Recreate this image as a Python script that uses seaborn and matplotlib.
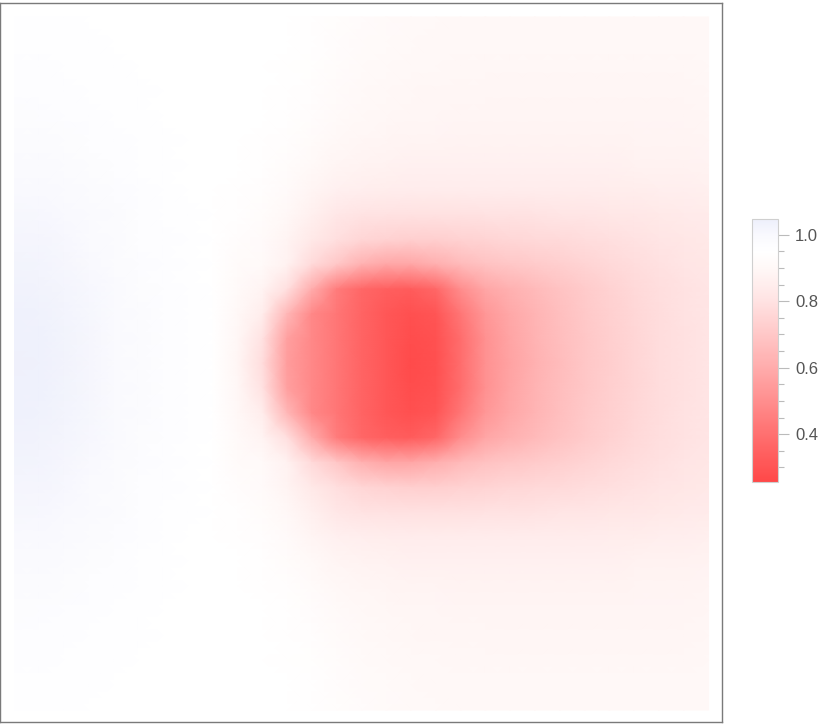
import numpy as np
import pandas as pd
import matplotlib
matplotlib.use("Agg")
import matplotlib.pyplot as plt
from matplotlib.colors import LinearSegmentedColormap
from matplotlib.ticker import MultipleLocator
import seaborn as sns

sns.set_style("white")
plt.rcParams["font.family"] = ["Liberation Sans", "DejaVu Sans"]

# field values on a 29 x 29 node grid.
# k = rows counted up from the middle row; the picture is mirror symmetric
k14 = [0.955, 0.955, 0.953, 0.952, 0.951, 0.950, 0.950, 0.950, 0.950, 0.950, 0.950, 0.948, 0.942, 0.933, 0.922, 0.913, 0.907, 0.904, 0.902, 0.900, 0.900, 0.900, 0.900, 0.900, 0.900, 0.900, 0.900, 0.900, 0.900]
k13 = [0.958, 0.957, 0.956, 0.954, 0.952, 0.950, 0.950, 0.950, 0.950, 0.950, 0.950, 0.947, 0.940, 0.930, 0.918, 0.910, 0.905, 0.902, 0.900, 0.900, 0.900, 0.900, 0.900, 0.900, 0.900, 0.900, 0.900, 0.900, 0.900]
k12 = [0.962, 0.962, 0.960, 0.957, 0.954, 0.951, 0.950, 0.950, 0.950, 0.950, 0.949, 0.945, 0.938, 0.925, 0.913, 0.905, 0.900, 0.898, 0.896, 0.895, 0.895, 0.895, 0.895, 0.895, 0.895, 0.895, 0.895, 0.895, 0.898]
k11 = [0.966, 0.966, 0.964, 0.961, 0.957, 0.953, 0.950, 0.950, 0.950, 0.950, 0.948, 0.943, 0.935, 0.920, 0.908, 0.900, 0.895, 0.893, 0.892, 0.890, 0.890, 0.890, 0.890, 0.890, 0.890, 0.890, 0.890, 0.890, 0.895]
k10 = [0.974, 0.973, 0.969, 0.965, 0.960, 0.955, 0.951, 0.950, 0.950, 0.950, 0.947, 0.940, 0.930, 0.910, 0.900, 0.895, 0.890, 0.888, 0.886, 0.885, 0.885, 0.885, 0.885, 0.885, 0.885, 0.885, 0.885, 0.885, 0.890]
k09 = [0.981, 0.980, 0.976, 0.970, 0.964, 0.958, 0.953, 0.950, 0.950, 0.950, 0.945, 0.935, 0.920, 0.900, 0.890, 0.885, 0.880, 0.878, 0.876, 0.875, 0.875, 0.875, 0.875, 0.875, 0.876, 0.878, 0.880, 0.880, 0.885]
k08 = [0.989, 0.987, 0.983, 0.976, 0.968, 0.961, 0.955, 0.951, 0.950, 0.948, 0.940, 0.925, 0.905, 0.885, 0.875, 0.870, 0.865, 0.865, 0.865, 0.865, 0.865, 0.865, 0.865, 0.865, 0.865, 0.870, 0.870, 0.870, 0.875]
k07 = [0.998, 0.996, 0.990, 0.982, 0.972, 0.965, 0.957, 0.952, 0.950, 0.945, 0.935, 0.915, 0.885, 0.865, 0.855, 0.850, 0.845, 0.845, 0.845, 0.845, 0.845, 0.845, 0.845, 0.845, 0.850, 0.850, 0.855, 0.855, 0.860]
k06 = [1.008, 1.005, 0.998, 0.988, 0.977, 0.967, 0.959, 0.953, 0.950, 0.940, 0.925, 0.900, 0.860, 0.825, 0.805, 0.800, 0.795, 0.795, 0.795, 0.800, 0.800, 0.805, 0.810, 0.815, 0.820, 0.825, 0.830, 0.835, 0.840]
k05 = [1.017, 1.014, 1.006, 0.994, 0.982, 0.970, 0.962, 0.954, 0.950, 0.930, 0.915, 0.880, 0.830, 0.790, 0.755, 0.740, 0.730, 0.730, 0.740, 0.750, 0.760, 0.765, 0.770, 0.780, 0.790, 0.800, 0.810, 0.820, 0.830]
k04 = [1.025, 1.021, 1.013, 1.000, 0.986, 0.973, 0.963, 0.955, 0.951, 0.920, 0.910, 0.870, 0.770, 0.700, 0.620, 0.580, 0.580, 0.610, 0.650, 0.680, 0.700, 0.715, 0.730, 0.745, 0.765, 0.780, 0.795, 0.810, 0.820]
k03 = [1.032, 1.028, 1.019, 1.005, 0.989, 0.976, 0.965, 0.956, 0.951, 0.910, 0.880, 0.790, 0.600, 0.440, 0.370, 0.340, 0.330, 0.370, 0.500, 0.580, 0.620, 0.655, 0.685, 0.715, 0.740, 0.765, 0.785, 0.800, 0.815]
k02 = [1.036, 1.034, 1.023, 1.008, 0.992, 0.978, 0.966, 0.957, 0.952, 0.900, 0.850, 0.640, 0.480, 0.420, 0.360, 0.310, 0.285, 0.305, 0.420, 0.530, 0.585, 0.630, 0.670, 0.705, 0.735, 0.760, 0.780, 0.800, 0.815]
k01 = [1.038, 1.036, 1.026, 1.011, 0.994, 0.979, 0.967, 0.957, 0.952, 0.895, 0.800, 0.560, 0.480, 0.420, 0.360, 0.310, 0.275, 0.290, 0.390, 0.510, 0.575, 0.625, 0.665, 0.700, 0.730, 0.755, 0.780, 0.795, 0.810]
k00 = [1.040, 1.037, 1.027, 1.012, 0.994, 0.979, 0.967, 0.958, 0.952, 0.890, 0.780, 0.550, 0.480, 0.420, 0.360, 0.310, 0.270, 0.285, 0.390, 0.510, 0.570, 0.620, 0.660, 0.700, 0.725, 0.755, 0.780, 0.795, 0.810]

upper_rows = [k14, k13, k12, k11, k10, k09, k08, k07, k06, k05, k04, k03, k02, k01]
middle_row = k00

cbar_ticks = [0.4, 0.6, 0.8, 1.0]
vmin, vmax = 0.256, 1.048

grid = pd.DataFrame(upper_rows + [middle_row] + upper_rows[::-1])

# red -> white -> pale blue, like the legend
stops = [(0.256, "#ff4848"), (0.40, "#ff7070"), (0.60, "#ffacac"),
         (0.80, "#ffe2e2"), (0.90, "#fff8f7"), (0.95, "#ffffff"),
         (1.00, "#f9f9fe"), (1.048, "#edeffb")]
cmap = LinearSegmentedColormap.from_list(
    "redwhite", [((v - vmin) / (vmax - vmin), c) for v, c in stops])

fig = plt.figure(figsize=(8.3, 7.27), dpi=100)
ax = fig.add_axes([0.0006, 0.0069, 0.8687, 0.989])
cax = fig.add_axes([0.9066, 0.337, 0.0313, 0.3622])

sns.heatmap(grid, ax=ax, cbar_ax=cax, cmap=cmap, vmin=vmin, vmax=vmax,
            shading="gouraud", xticklabels=False, yticklabels=False)

n = grid.shape[0] - 1
step = 694 / n
ax.set_xlim(-14 / step, n + 13 / step)
ax.set_ylim(n + 12 / step, -14 / step)
ax.set_facecolor("white")
for s in ax.spines.values():
    s.set_visible(True)
    s.set_color("#7a7a7a")
    s.set_linewidth(1.0)

cbar = ax.collections[0].colorbar
cbar.set_ticks(cbar_ticks)
cbar.ax.yaxis.set_minor_locator(MultipleLocator(0.05))
cbar.outline.set_edgecolor("#cfcfcf")
cbar.outline.set_linewidth(0.8)
cax.tick_params(which="major", length=8, width=0.8, color="#bbbbbb",
                labelsize=12, labelcolor="#555555", pad=4)
cax.tick_params(which="minor", length=4, width=0.8, color="#bbbbbb")

fig.savefig("out.png", dpi=100)
